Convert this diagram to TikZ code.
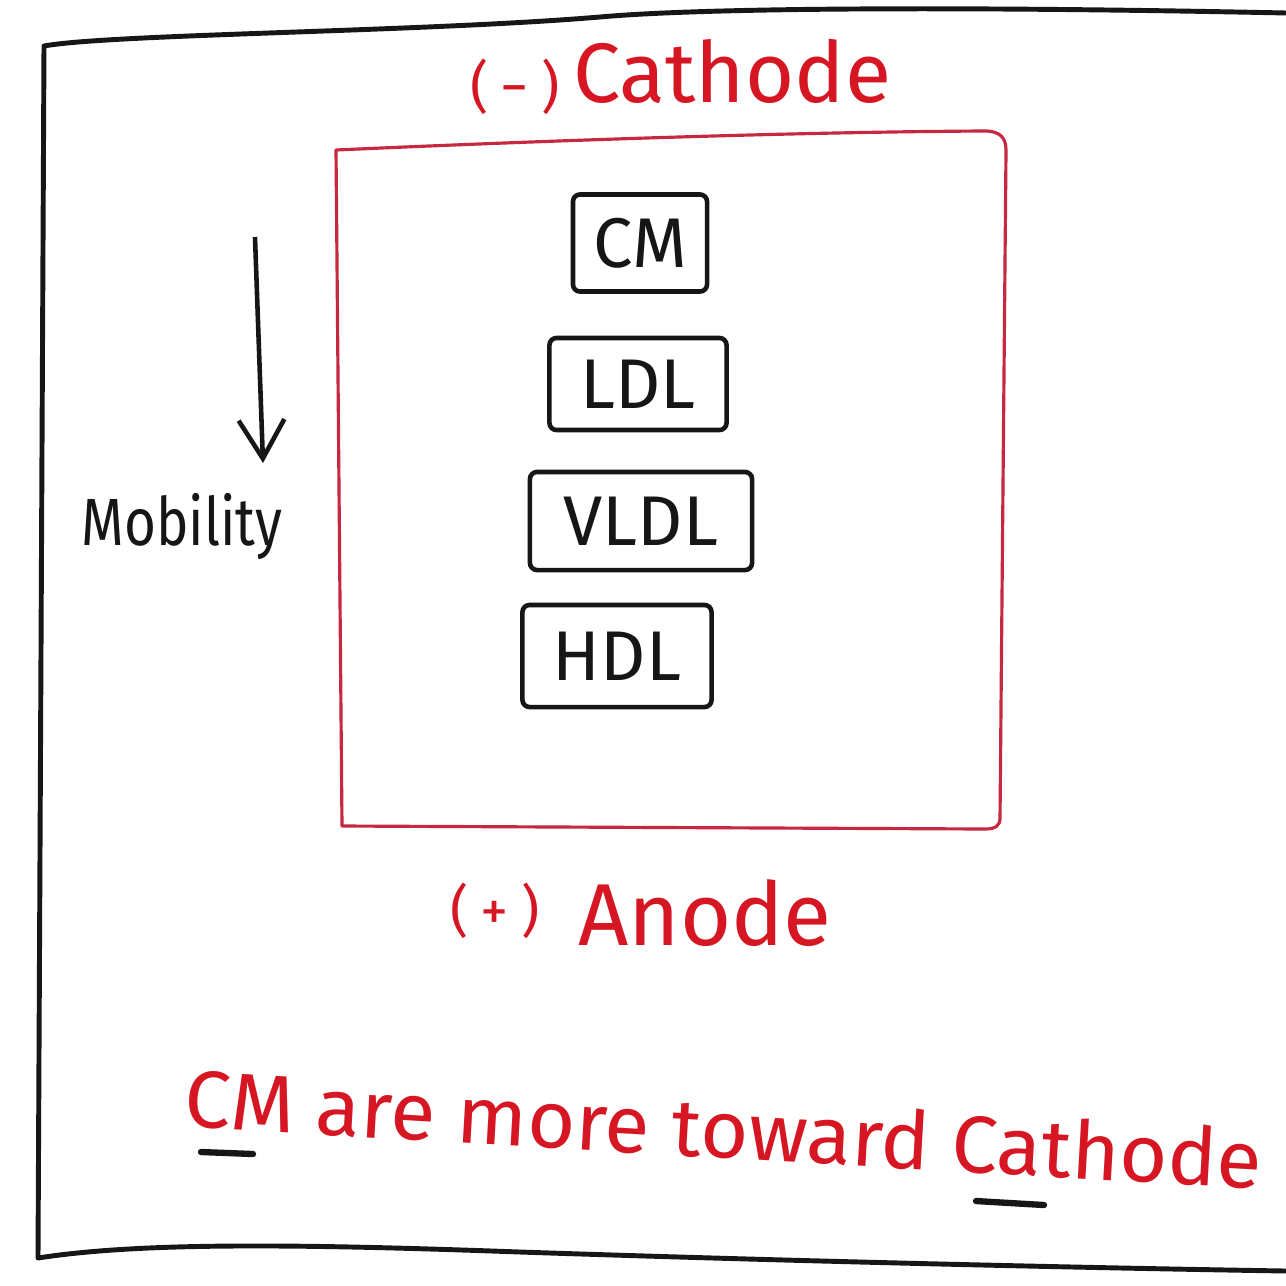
\documentclass[tikz,border=0pt]{standalone}
\usepackage{fontspec}
\usepackage{graphicx}
\setmainfont{Fira Sans}
\usetikzlibrary{arrows.meta}
\definecolor{inkred}{RGB}{214,22,34}
\definecolor{boxred}{RGB}{198,40,64}
\definecolor{ink}{RGB}{22,22,22}
\newcommand{\fs}[1]{\fontsize{#1}{#1}\selectfont}
\tikzset{
  frame/.style={draw=ink, line width=1.4pt, line join=round},
  tank/.style={draw=boxred, line width=0.9pt, line join=round},
  fraction/.style={draw=ink, line width=1.3pt, rounded corners=2pt, inner sep=0pt,
                   font=\fs{20pt}, text=ink},
  redtext/.style={text=inkred, inner sep=0pt},
  uline/.style={draw=ink, line width=1.8pt, line cap=round},
}
\begin{document}
\begin{tikzpicture}[x=0.01cm, y=-0.01cm]
  \useasboundingbox[fill=white] (0,0) rectangle (1286,1285);

  % outer page frame (open on the right)
  \draw[frame] (1286,13) .. controls (950,6) and (700,8) .. (600,17)
               .. controls (420,32) and (110,34) .. (44,46)
               -- (38,1258)
               .. controls (140,1242) and (300,1244) .. (520,1252)
               .. controls (820,1262) and (1100,1268) .. (1286,1271);

  % electrophoresis field
  \draw[tank] (336,150) .. controls (560,140) and (800,132) .. (985,131)
              .. controls (1000,131) and (1006,138) .. (1006,150)
              -- (1000,818) .. controls (1000,826) and (995,829) .. (985,829)
              -- (342,826) -- cycle;

  % electrode labels
  \node[redtext, font=\fs{16pt}] (neg) at (515,87) {(\:−\:)};
  \node[redtext, font=\fs{24pt}, anchor=base] (cathode) at (732,103) {Cathode};
  \node[redtext, font=\fs{16pt}] (pos) at (495,911) {(\:+\:)};
  \node[redtext, font=\fs{25pt}, anchor=base] (anode) at (705,945) {Anode};

  % lipoprotein bands
  \node[fraction, minimum width=1.34cm, minimum height=0.97cm] (cm)   at (640,243) {CM};
  \node[fraction, minimum width=1.77cm, minimum height=0.92cm] (ldl)  at (638,384) {LDL};
  \node[fraction, minimum width=2.22cm, minimum height=0.98cm] (vldl) at (641,521) {VLDL};
  \node[fraction, minimum width=1.89cm, minimum height=1.02cm] (hdl)  at (617,656) {HDL};

  % mobility arrow
  \coordinate (mtop) at (255,237);
  \coordinate (mbot) at (263,463);
  \draw[draw=ink, line width=1.3pt, -{Straight Barb[length=11pt, width=13pt, line width=1.3pt]}]
       (mtop) -- (mbot);
  \node[text=ink, font=\fs{19pt}, anchor=base] (mob) at (182,545) {\scalebox{0.82}[1]{Mobility}};

  % conclusion
  \node[redtext, font=\fs{23pt}, anchor=base, rotate=-3.3] (note) at (722,1158)
       {\scalebox{1.02}[1]{CM are more toward Cathode}};
  \coordinate (u1a) at (201,1152);
  \coordinate (u1b) at (253,1154);
  \coordinate (u2a) at (976,1201);
  \coordinate (u2b) at (1044,1205);
  \draw[uline] (u1a) -- (u1b);
  \draw[uline] (u2a) -- (u2b);
\end{tikzpicture}
\end{document}
